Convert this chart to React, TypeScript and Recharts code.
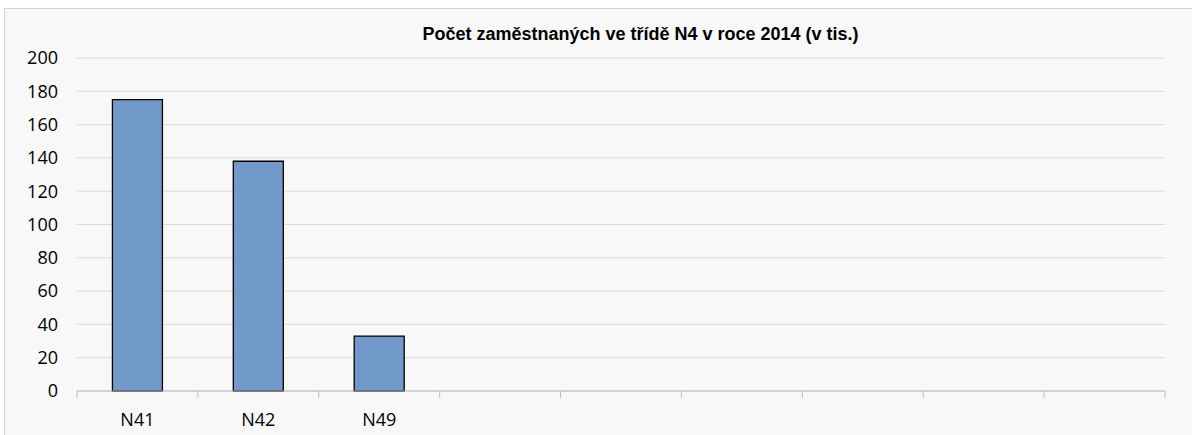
import React from 'react';
import { BarChart, Bar, XAxis, YAxis, CartesianGrid } from 'recharts';

// Počet zaměstnaných (v tis.) – třída N4, rok 2014
const categories = ['N41', 'N42', 'N49', '', '', '', '', '', ''];
const employed = [175, 138, 33, null, null, null, null, null, null];
const yTicks = [0, 20, 40, 60, 80, 100, 120, 140, 160, 180, 200];
const title = 'Počet zaměstnaných ve třídě N4 v roce 2014 (v tis.)';

const data = categories.map((cat, i) => ({ cat, value: employed[i] }));

const CategoryTick = (props: any) => {
  const { x, y, payload, index } = props;
  const half = payload && payload.offset ? payload.offset : 60.4;
  const last = index === categories.length - 1;
  return (
    <g>
      <line x1={x - half} x2={x - half} y1={y} y2={y + 7} stroke="#bfbfbf" />
      {last && <line x1={x + half} x2={x + half} y1={y} y2={y + 7} stroke="#bfbfbf" />}
      <text
        x={x}
        y={y + 35}
        textAnchor="middle"
        fill="#000"
        fontSize={18}
        fontFamily="'Open Sans', sans-serif"
      >
        {payload.value}
      </text>
    </g>
  );
};

export default function App() {
  return (
    <div style={{ position: 'fixed', left: 0, top: 0, width: 1192, height: 435, background: '#fff', overflow: 'hidden' }}>
      <div
        style={{
          position: 'absolute',
          left: 4,
          top: 8,
          width: 1210,
          height: 450,
          background: '#f8f8f8',
          border: '1.5px solid #d4d4d4',
        }}
      />
      <div
        style={{
          position: 'absolute',
          left: 0,
          top: 25,
          width: 1281,
          textAlign: 'center',
          fontFamily: "'Liberation Sans', Arial, sans-serif",
          fontWeight: 'bold',
          fontSize: 18,
          lineHeight: '18px',
          color: '#000',
          whiteSpace: 'nowrap',
        }}
      >
        {title}
      </div>
      <div style={{ position: 'absolute', left: 0, top: 0 }}>
        <BarChart
          width={1192}
          height={435}
          data={data}
          margin={{ top: 58, right: 27, left: 17, bottom: 0 }}
          barCategoryGap="29.3%"
        >
          <CartesianGrid horizontal vertical={false} stroke="#d9d9d9" />
          <XAxis
            dataKey="cat"
            height={44}
            axisLine={{ stroke: '#bfbfbf' }}
            tickLine={false}
            tickSize={0}
            tickMargin={0}
            interval={0}
            tick={<CategoryTick />}
          />
          <YAxis
            domain={[0, 200]}
            ticks={yTicks}
            width={60}
            axisLine={false}
            tickLine={false}
            tickSize={0}
            tickMargin={19}
            tick={{ fill: '#000', fontSize: 18, fontFamily: "'Open Sans', sans-serif" }}
          />
          <Bar dataKey="value" fill="#7199c9" stroke="#000" strokeWidth={1.3} isAnimationActive={false} />
        </BarChart>
      </div>
    </div>
  );
}
